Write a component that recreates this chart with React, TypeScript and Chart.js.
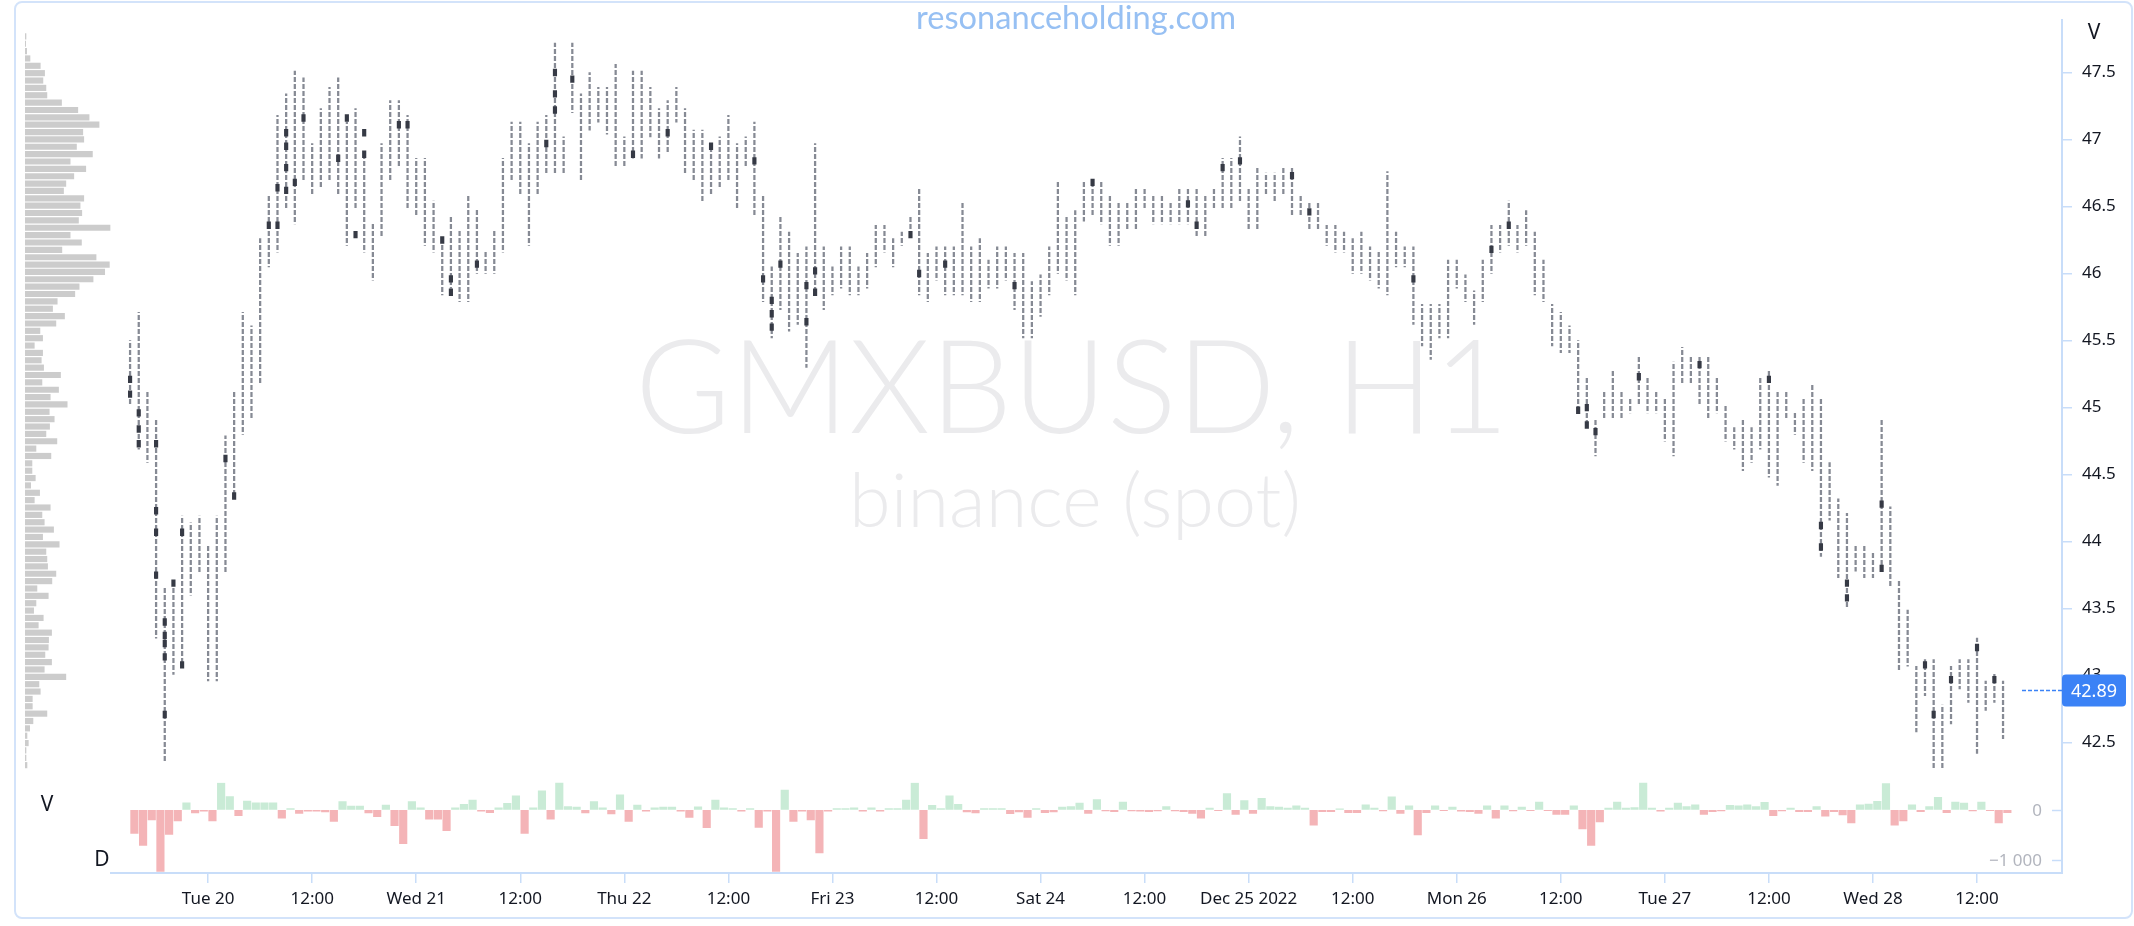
import React, { useEffect, useRef } from 'react';
import { Chart, registerables } from 'chart.js';

Chart.register(...registerables);

// ---------- data (hourly candles, GMXBUSD H1, from Dec 19 15:00) ----------
const candleHigh = [
  45.50, 45.71, 45.12, 44.91, 43.66, 43.71, 44.19, 44.14, 44.19, 43.98,
  44.19, 44.79, 45.12, 45.71, 45.61, 46.26, 46.58, 47.18, 47.34, 47.51,
  47.46, 46.97, 47.23, 47.39, 47.46, 47.13, 47.23, 46.91, 46.37, 46.97,
  47.29, 47.29, 47.18, 46.86, 46.86, 46.54, 46.26, 46.43, 46.32, 46.58,
  46.48, 46.16, 46.32, 46.86, 47.13, 47.13, 46.97, 47.13, 47.18, 47.72,
  47.02, 47.72, 47.34, 47.50, 47.39, 47.39, 47.56, 47.02, 47.51, 47.51,
  47.39, 47.23, 47.29, 47.39, 47.23, 47.07, 47.07, 46.97, 47.02, 47.18,
  46.97, 47.02, 47.13, 46.58, 46.05, 46.42, 46.31, 46.15, 46.20, 46.97,
  46.20, 46.05, 46.20, 46.20, 46.05, 46.15, 46.36, 46.36, 46.26, 46.31,
  46.42, 46.63, 46.15, 46.20, 46.20, 46.20, 46.53, 46.20, 46.26, 46.10,
  46.20, 46.20, 46.15, 46.15, 45.94, 45.99, 46.20, 46.69, 46.42, 46.47,
  46.69, 46.69, 46.69, 46.58, 46.53, 46.53, 46.63, 46.63, 46.58, 46.58,
  46.53, 46.63, 46.63, 46.63, 46.58, 46.63, 46.86, 46.86, 47.02, 46.63,
  46.80, 46.75, 46.75, 46.80, 46.80, 46.58, 46.53, 46.53, 46.36, 46.36,
  46.31, 46.26, 46.31, 46.20, 46.16, 46.76, 46.31, 46.20, 46.20, 45.77,
  45.77, 45.77, 46.10, 46.10, 45.99, 45.87, 46.10, 46.36, 46.36, 46.54,
  46.36, 46.47, 46.31, 46.10, 45.77, 45.71, 45.61, 45.50, 45.23, 44.91,
  45.12, 45.28, 45.12, 45.07, 45.39, 45.23, 45.12, 45.07, 45.34, 45.45,
  45.39, 45.39, 45.39, 45.23, 45.02, 44.85, 44.91, 44.85, 45.23, 45.28,
  45.12, 45.12, 44.96, 45.07, 45.18, 45.07, 44.59, 44.32, 44.21, 43.98,
  43.98, 43.92, 44.91, 44.26, 43.71, 43.49, 43.07, 43.12, 43.12, 42.78,
  43.07, 43.12, 43.12, 43.28, 42.96, 43.01, 42.96,
];

const candleLow = [
  45.02, 44.69, 44.59, 43.28, 42.36, 43.01, 43.07, 43.60, 43.76, 42.96,
  42.96, 43.76, 44.32, 44.80, 44.91, 45.18, 46.05, 46.16, 46.48, 46.37,
  46.70, 46.59, 46.64, 46.70, 46.59, 46.21, 46.48, 46.16, 45.95, 46.27,
  46.70, 46.80, 46.48, 46.43, 46.21, 46.16, 45.84, 45.89, 45.79, 45.79,
  46.00, 46.00, 46.00, 46.16, 46.70, 46.59, 46.21, 46.59, 46.75, 46.75,
  46.75, 47.20, 46.70, 47.07, 47.13, 47.04, 46.80, 46.80, 46.86, 46.86,
  47.02, 46.86, 46.91, 47.13, 46.75, 46.70, 46.54, 46.59, 46.64, 46.70,
  46.48, 46.80, 46.43, 45.79, 45.52, 45.73, 45.57, 45.62, 45.30, 45.84,
  45.73, 45.84, 45.89, 45.84, 45.84, 45.89, 46.05, 46.16, 46.05, 46.21,
  46.27, 45.84, 45.79, 45.95, 45.84, 45.84, 45.84, 45.79, 45.79, 45.89,
  45.89, 45.95, 45.73, 45.52, 45.52, 45.68, 45.84, 46.00, 45.95, 45.84,
  46.39, 46.43, 46.37, 46.21, 46.21, 46.32, 46.32, 46.48, 46.37, 46.37,
  46.37, 46.37, 46.37, 46.27, 46.27, 46.48, 46.48, 46.48, 46.54, 46.32,
  46.32, 46.59, 46.54, 46.59, 46.43, 46.43, 46.32, 46.32, 46.21, 46.16,
  46.16, 46.00, 46.00, 45.95, 45.89, 45.84, 46.05, 46.05, 45.62, 45.46,
  45.36, 45.52, 45.52, 45.89, 45.79, 45.62, 45.79, 46.00, 46.16, 46.21,
  46.16, 46.21, 45.84, 45.79, 45.46, 45.41, 45.41, 44.96, 44.85, 44.64,
  44.91, 44.91, 44.91, 44.96, 45.02, 44.96, 44.96, 44.75, 44.64, 45.18,
  45.18, 45.02, 44.91, 44.96, 44.75, 44.69, 44.53, 44.59, 44.69, 44.48,
  44.42, 44.91, 44.80, 44.59, 44.53, 43.89, 44.16, 43.73, 43.51, 43.78,
  43.73, 43.73, 43.78, 43.67, 43.03, 43.07, 42.58, 42.85, 42.31, 42.31,
  42.64, 42.90, 42.80, 42.42, 42.74, 42.80, 42.53,
];

// high-volume footprint cells (candle index, price)
const pocIndex = [
  0, 0, 1, 1, 1, 3, 3, 3, 3, 4, 4, 4, 4, 4, 5, 6, 6, 11, 12, 16,
  17, 17, 18, 18, 18, 18, 19, 20, 24, 25, 26, 27, 27, 31, 32, 36, 37, 37, 40, 48,
  49, 49, 49, 51, 58, 62, 67, 72, 73, 74, 74, 74, 75, 78, 78, 79, 79, 90, 91, 94,
  102, 111, 122, 123, 126, 128, 134, 136, 148, 157, 159, 167, 168, 168, 169, 174, 181, 189, 195, 195,
  198, 198, 202, 202, 207, 208, 210, 213, 215,
];
const pocPrice = [
  45.21, 45.10, 44.96, 44.84, 44.73, 44.73, 44.23, 44.07, 43.75, 43.40, 43.30, 43.24, 43.14, 42.71, 43.69, 44.07, 43.08, 44.62, 44.34, 46.36,
  46.64, 46.36, 47.05, 46.95, 46.79, 46.62, 46.68, 47.16, 46.86, 47.16, 46.29, 47.05, 46.89, 47.11, 47.11, 46.25, 45.96, 45.86, 46.07, 46.97,
  47.50, 47.34, 47.22, 47.45, 46.89, 47.05, 46.95, 46.84, 45.96, 45.80, 45.70, 45.60, 46.07, 45.91, 45.64, 46.02, 45.86, 46.29, 46.00, 46.07,
  45.91, 46.68, 46.52, 46.36, 46.79, 46.84, 46.73, 46.46, 45.96, 46.18, 46.36, 44.98, 45.00, 44.87, 44.82, 45.23, 45.32, 45.21, 44.12, 43.96,
  43.69, 43.58, 44.28, 43.80, 43.08, 42.71, 42.97, 43.21, 42.97,
];

// volume delta per candle
const deltaValues = [
  -471, -710, -198, -1230, -492, -219, 143, -61, -27, -219,
  540, 266, -116, 178, 143, 143, 143, -164, 27, -68,
  -27, -27, -41, -232, 164, 75, 75, -61, -137, 96,
  -314, -676, 164, 41, -184, -184, -417, 41, 109, 198,
  -27, -55, 41, 130, 280, -471, 41, 382, -184, 567,
  68, 55, -61, 164, 41, -82, 300, -232, 96, -27,
  41, 55, 55, -27, -150, 61, -355, 198, 41, 27,
  -27, 27, -348, -27, -1230, 396, -232, -27, -198, -860,
  -27, 27, 27, 41, -27, 41, -27, 27, 27, 198,
  540, -574, 89, 27, 280, 109, -41, -61, 27, 27,
  27, -75, -41, -150, 27, -55,
  -41, 55, 68, 137, -68, 205, -20, -34, 157, -20,
  -27, -34, -20, 68, -20, -34, -68, -164, 34, -14,
  328, -89, 184, -68, 232, 68, 55, 34, 82, 34,
  -307, -34, -34, 20, -55, -55, 102, 34, -20, 260,
  -68, 82, -499, -55, 82, -14, 55, -27, -34, -68,
  82, -164, 82, -20, 55, -14, 157, -14, -89, -89,
  82, -382, -710, -239, 34, 157, 34, 48, 567, 34,
  -27, 34, 137, 68, 102, -89, -34, -20, 89, 82,
  102, 68, 150, -116, -20, 34, -34, -34, 68, -123,
  -34, -102, -260, 102, 116, 171, 526, -307, -219, 102,
  -34, 68, 253, -55, 157, 137, -20, 157, -14, -260, -55,
];

// volume profile, from top price level downwards
const profileTop = 47.71;
const profileStep = 0.0544;
const profileVolume = [
  3, 2, 5, 15, 46, 59, 54, 63, 66, 110,
  159, 193, 223, 174, 177, 155, 203, 136, 183, 147,
  123, 116, 177, 166, 171, 161, 256, 136, 170, 111,
  214, 254, 240, 205, 163, 150, 97, 83, 119, 93,
  45, 53, 28, 53, 49, 56, 107, 51, 101, 76,
  127, 73, 88, 74, 63, 96, 33, 78, 21, 21,
  31, 17, 44, 28, 76, 51, 58, 86, 53, 103,
  63, 66, 68, 93, 81, 36, 70, 33, 26, 55,
  40, 80, 71, 70, 60, 80, 58, 123, 42, 46,
  22, 22, 66, 24, 14, 6, 10, 3, 3, 6,
];

const xTickLabels = [
  'Tue 20', '12:00', 'Wed 21', '12:00', 'Thu 22', '12:00', 'Fri 23', '12:00', 'Sat 24',
  '12:00', 'Dec 25 2022', '12:00', 'Mon 26', '12:00', 'Tue 27', '12:00', 'Wed 28', '12:00',
];
const firstLabelHour = 9; // Tue 20 00:00 = 9 hours after the first candle
const priceTicks = [42.5, 43, 43.5, 44, 44.5, 45, 45.5, 46, 46.5, 47, 47.5];
const deltaTicks = [-1000, 0];
const deltaTickLabels = ['\u22121\u00a0000', '0'];
const lastPrice = 42.89;

// ---------- styles ----------
const W = 2134;
const H = 926;
const AXIS = '#c8ddf9';
const TEXT = '#131722';
const FONT = 'Noto Sans';

function fitText(ctx: CanvasRenderingContext2D, text: string, cx: number, baseline: number, width: number, weight: string, family: string) {
  ctx.font = `${weight} 100px ${family}`;
  const m = ctx.measureText(text).width;
  const size = (100 * width) / m;
  ctx.font = `${weight} ${size}px ${family}`;
  ctx.fillText(text, cx, baseline);
}

const overlayPlugin = {
  id: 'overlayTexts',
  beforeDatasetsDraw(chart: any) {
    const ctx: CanvasRenderingContext2D = chart.ctx;
    ctx.save();
    ctx.textAlign = 'center';
    ctx.textBaseline = 'alphabetic';
    ctx.fillStyle = '#ebebed';
    fitText(ctx, 'GMXBUSD, H1', 1072, 433, 874, '300', 'Lato');
    fitText(ctx, 'binance (spot)', 1075, 527, 452, '300', 'Lato');
    ctx.restore();
  },
  afterDraw(chart: any) {
    const ctx: CanvasRenderingContext2D = chart.ctx;
    ctx.save();
    // site name
    ctx.textAlign = 'center';
    ctx.textBaseline = 'alphabetic';
    ctx.fillStyle = '#97c0f3';
    fitText(ctx, 'resonanceholding.com', 1076, 29, 320, '400', 'Lato');
    // pane letters
    ctx.fillStyle = TEXT;
    ctx.font = `400 21px ${FONT}`;
    ctx.fillText('V', 2094, 39);
    ctx.fillText('V', 47, 811);
    ctx.fillText('D', 102, 866);
    // delta axis: inner ticks and labels
    const yd = chart.scales.yd;
    ctx.strokeStyle = AXIS;
    ctx.lineWidth = 1.5;
    ctx.fillStyle = '#b2b5be';
    ctx.font = `400 17px ${FONT}`;
    ctx.textAlign = 'right';
    ctx.textBaseline = 'middle';
    deltaTicks.forEach((v, k) => {
      const y = Math.round(yd.getPixelForValue(v)) + 0.5;
      ctx.beginPath();
      ctx.moveTo(yd.left - 10, y);
      ctx.lineTo(yd.left, y);
      ctx.stroke();
      ctx.fillText(deltaTickLabels[k], yd.left - 20, y + 1);
    });
    // last price tag
    const ys = chart.scales.y;
    const py = ys.getPixelForValue(lastPrice);
    ctx.strokeStyle = '#3b82f6';
    ctx.lineWidth = 1.5;
    ctx.setLineDash([4, 2]);
    ctx.beginPath();
    ctx.moveTo(ys.left - 40, py);
    ctx.lineTo(ys.left, py);
    ctx.stroke();
    ctx.setLineDash([]);
    ctx.fillStyle = '#3b82f6';
    ctx.beginPath();
    (ctx as any).roundRect(ys.left, py - 16, 64, 32, 4);
    ctx.fill();
    ctx.fillStyle = '#ffffff';
    ctx.font = `400 18px ${FONT}`;
    ctx.textAlign = 'center';
    ctx.textBaseline = 'middle';
    ctx.fillText(lastPrice.toFixed(2), ys.left + 32, py + 1);
    ctx.restore();
  },
};

export default function App() {
  const mainRef = useRef<HTMLCanvasElement>(null);
  const profRef = useRef<HTMLCanvasElement>(null);

  useEffect(() => {
    const mainCanvas = mainRef.current!;
    const ctx = mainCanvas.getContext('2d')!;
    const pc = document.createElement('canvas');
    pc.width = 2;
    pc.height = 7;
    const pctx = pc.getContext('2d')!;
    pctx.fillStyle = '#868a94';
    pctx.fillRect(0, 0, 2, 5);
    const pattern = ctx.createPattern(pc, 'repeat')!;

    const candleData = candleHigh.map((h, i) => ({ x: i, y: [candleLow[i], h] }));
    const pocData = pocIndex.map((i, k) => ({ x: i, y: [pocPrice[k] - 0.025, pocPrice[k] + 0.025] }));
    const deltaData = deltaValues.map((v, i) => ({ x: i + 0.5, y: v }));

    const main = new Chart(mainCanvas, {
      type: 'bar',
      data: {
        datasets: [
          {
            label: 'cells',
            data: pocData as any,
            yAxisID: 'y',
            backgroundColor: '#363a45',
            barThickness: 3.5,
            grouped: false,
            borderWidth: 0,
          } as any,
          {
            label: 'candles',
            data: candleData as any,
            yAxisID: 'y',
            backgroundColor: pattern as any,
            barThickness: 1.6,
            grouped: false,
            borderWidth: 0,
          } as any,
          {
            label: 'delta',
            data: deltaData as any,
            yAxisID: 'yd',
            backgroundColor: deltaValues.map((v) => (v >= 0 ? '#c9ebd6' : '#f4b4b7')),
            barThickness: 7.5,
            grouped: false,
            borderWidth: 0,
          } as any,
        ],
      },
      options: {
        responsive: false,
        devicePixelRatio: 1,
        animation: false,
        events: [],
        layout: { padding: { left: 111, top: 12, right: 0, bottom: 0 } },
        plugins: { legend: { display: false }, tooltip: { enabled: false } },
        scales: {
          x: {
            type: 'linear',
            position: 'bottom',
            offset: false,
            min: -2.2,
            max: 222.8,
            afterBuildTicks: (s: any) => {
              s.ticks = xTickLabels.map((_, k) => ({ value: firstLabelHour + 12 * k }));
            },
            afterFit: (s: any) => {
              s.height = 53;
            },
            ticks: {
              autoSkip: false,
              maxRotation: 0,
              padding: 6,
              color: TEXT,
              font: { family: FONT, size: 17 },
              callback: (_v: any, i: number) => xTickLabels[i],
            },
            grid: { offset: false, drawOnChartArea: false, color: AXIS, tickLength: 10, lineWidth: 1.5 },
            border: { color: AXIS, width: 2 },
          },
          y: {
            type: 'linear',
            position: 'right',
            stack: 'right',
            stackWeight: 770,
            min: 42.2,
            max: 47.89,
            afterBuildTicks: (s: any) => {
              s.ticks = priceTicks.map((v) => ({ value: v }));
            },
            afterFit: (s: any) => {
              s.width = 72;
            },
            ticks: {
              padding: 10,
              color: TEXT,
              font: { family: FONT, size: 17 },
              callback: (v: any) => `${v}`,
            },
            grid: { drawOnChartArea: false, color: AXIS, tickLength: 10, lineWidth: 1.5 },
            border: { color: AXIS, width: 2 },
          },
          yd: {
            type: 'linear',
            position: 'right',
            stack: 'right',
            stackWeight: 91,
            min: -1260,
            max: 540,
            afterBuildTicks: (s: any) => {
              s.ticks = deltaTicks.map((v) => ({ value: v }));
            },
            afterFit: (s: any) => {
              s.width = 72;
            },
            ticks: { display: false },
            grid: { drawOnChartArea: false, tickColor: 'rgba(0,0,0,0)', tickLength: 10 },
            border: { color: AXIS, width: 2 },
          },
        },
      } as any,
      plugins: [overlayPlugin as any],
    });

    const profData = profileVolume.map((v, k) => ({ x: v, y: profileTop - k * profileStep }));
    const prof = new Chart(profRef.current!, {
      type: 'bar',
      data: {
        datasets: [
          {
            data: profData as any,
            backgroundColor: '#cccccc',
            barThickness: 5.5,
            grouped: false,
            borderWidth: 0,
          } as any,
        ],
      },
      options: {
        indexAxis: 'y',
        responsive: false,
        devicePixelRatio: 1,
        animation: false,
        events: [],
        layout: { padding: { left: 0, right: 0, top: 12, bottom: H - 782 } },
        plugins: { legend: { display: false }, tooltip: { enabled: false } },
        scales: {
          x: { type: 'linear', min: 0, max: 271, display: false, offset: false },
          y: { type: 'linear', min: 42.2, max: 47.89, display: false, offset: false },
        },
      } as any,
    });

    return () => {
      main.destroy();
      prof.destroy();
    };
  }, []);

  return (
    <div style={{ position: 'absolute', left: 0, top: 0, width: W, height: H, background: '#ffffff', overflow: 'hidden' }}>
      <div
        style={{
          position: 'absolute',
          left: 14,
          top: 1,
          width: 2119,
          height: 918,
          border: '2px solid #d3e3fa',
          borderRadius: 8,
          boxSizing: 'border-box',
        }}
      />
      <canvas ref={profRef} width={90} height={H} style={{ position: 'absolute', left: 25, top: 0 }} />
      <canvas ref={mainRef} width={W} height={H} style={{ position: 'absolute', left: 0, top: 0 }} />
    </div>
  );
}
